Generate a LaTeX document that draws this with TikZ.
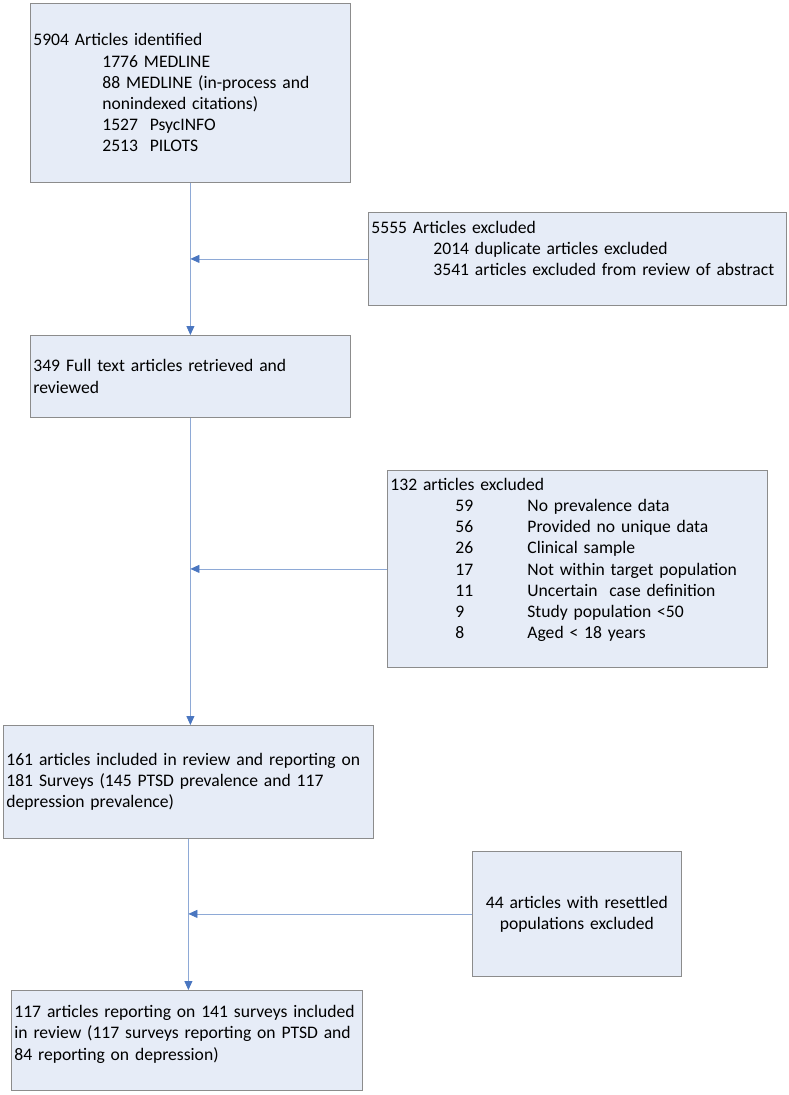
\documentclass[tikz,border=0pt]{standalone}
\usepackage{fontspec}
\setmainfont{Carlito}
\usepackage{tikz}
\usetikzlibrary{arrows.meta,positioning}

\definecolor{boxfill}{HTML}{E6ECF7}
\definecolor{boxedge}{HTML}{8C8C8C}
\definecolor{flowline}{HTML}{8EA9D6}
\definecolor{flowtip}{HTML}{4A76C0}

% indented lines inside the boxes
\newcommand{\srcline}[1]{\hspace*{69pt}#1}
\newcommand{\dupline}[1]{\hspace*{62pt}#1}
\newcommand{\exclrow}[2]{\hspace*{65pt}\makebox[72pt][l]{#1}#2}

\begin{document}
\begin{tikzpicture}[x=1pt,y=-1pt,
	box/.style={draw=boxedge,fill=boxfill,line width=0.8pt,anchor=north west,
		inner xsep=3pt,inner ysep=0pt,align=left,
		font=\fontsize{17.6}{21.2}\selectfont},
	flow/.style={draw=flowline,line width=0.8pt,
		-{Triangle[length=9pt,width=8pt,color=flowtip]}}]
	\useasboundingbox (0,0) rectangle (789,1095);
	%% the main column
	\node[box,text width=314pt,minimum height=179pt] (found) at (30,3)
	{5904 Articles identified\\
		\srcline{1776 MEDLINE}\\
		\srcline{88 MEDLINE (in-process and}\\
		\srcline{nonindexed citations)}\\
		\srcline{1527\ \ PsycINFO}\\
		\srcline{2513\ \ PILOTS}};
	\node[box,text width=314pt,minimum height=82pt] (fulltext) at (30,335)
	{349 Full text articles retrieved and\\ reviewed};
	\node[box,text width=364pt,minimum height=113pt] (included) at (3,725)
	{161 articles included in review and reporting on\\
		181 Surveys (145 PTSD prevalence and 117\\
		depression prevalence)};
	\node[box,text width=345pt,minimum height=100pt] (final) at (11,990)
	{117 articles reporting on 141 surveys included\\
		in review (117 surveys reporting on PTSD and\\
		84 reporting on depression)\\[-6pt] \mbox{}};
	%% the exclusions
	\node[box,text width=412pt,minimum height=93pt] (dup) at (368,212)
	{5555 Articles excluded\\
		\dupline{2014 duplicate articles excluded}\\
		\dupline{3541 articles excluded from review of abstract}\\ \mbox{}};
	\node[box,text width=374pt,minimum height=197pt] (excl) at (387,470)
	{132 articles excluded\\
		\exclrow{59}{No prevalence data}\\
		\exclrow{56}{Provided no unique data}\\
		\exclrow{26}{Clinical sample}\\
		\exclrow{17}{Not within target population}\\
		\exclrow{11}{Uncertain\ \ case definition}\\
		\exclrow{9}{Study population <50}\\
		\exclrow{8}{Aged < 18 years}\\ \mbox{}};
	\node[box,text width=203pt,minimum height=125pt,align=center] (resettled) at (472,851)
	{44 articles with resettled\\ populations excluded};
	%% the arrows
	\draw[flow] (found.south) -- (fulltext.north);
	\draw[flow] (dup.west) -- (dup.west -| found.south);
	\draw[flow] (fulltext.south) -- (fulltext.south |- included.north);
	\draw[flow] (excl.west) -- (excl.west -| fulltext.south);
	\draw[flow] (included.south) -- (included.south |- final.north);
	\draw[flow] (resettled.west) -- (resettled.west -| included.south);
\end{tikzpicture}
\end{document}
